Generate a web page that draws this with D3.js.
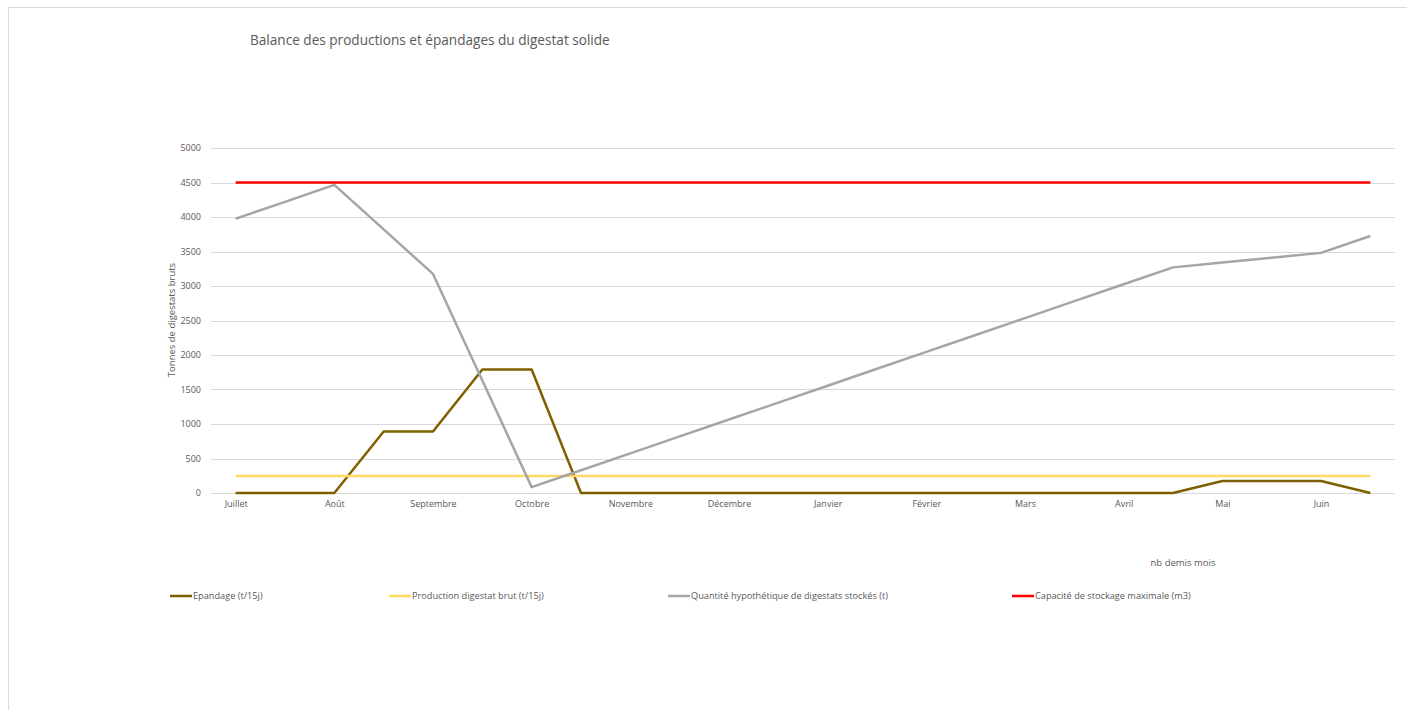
<!DOCTYPE html>
<html>
<head>
<meta charset="utf-8">
<script src="https://cdn.jsdelivr.net/npm/d3@7"></script>
<style>
body{margin:0;background:#fff;font-family:"Open Sans",sans-serif;}
text{fill:#595959;}
</style>
</head>
<body>
<script>
// half-month steps, July -> June
var months=["Juillet","Août","Septembre","Octobre","Novembre","Décembre","Janvier","Février","Mars","Avril","Mai","Juin"]
var epandage=[0,0,0,890,890,1790,1790,0,0,0,0,0,0,0,0,0,0,0,0,0,175,175,175,0]
var production=[245,245,245,245,245,245,245,245,245,245,245,245,245,245,245,245,245,245,245,245,245,245,245,245]
var stock=[3975,4220,4465,3820,3175,1630,85,330,575,820,1065,1310,1555,1800,2045,2290,2535,2780,3025,3270,3340,3410,3480,3725]
var capacite=[4500,4500,4500,4500,4500,4500,4500,4500,4500,4500,4500,4500,4500,4500,4500,4500,4500,4500,4500,4500,4500,4500,4500,4500]
var yTicks=[0,500,1000,1500,2000,2500,3000,3500,4000,4500,5000]

var series=[
  {name:"Epandage (t/15j)",values:epandage,color:"#7f6000"},
  {name:"Production digestat brut (t/15j)",values:production,color:"#ffd966"},
  {name:"Quantité hypothétique de digestats stockés (t)",values:stock,color:"#a5a5a5"},
  {name:"Capacité de stockage maximale (m3)",values:capacite,color:"#ff0000"}
]
var legendX=[170,389,668,1012]

var screen={width:1407,height:710}
var plot={left:211,right:1395,top:148,bottom:493}

var svg=d3.select("body").append("svg")
  .attr("width",screen.width)
  .attr("height",screen.height)

// chart border
svg.append("rect")
   .attr("x",8.5).attr("y",7.5)
   .attr("width",screen.width).attr("height",screen.height)
   .attr("fill","none").attr("stroke","#d9d9d9")

var xScale=d3.scalePoint()
  .domain(d3.range(epandage.length))
  .range([plot.left,plot.right])
  .padding(0.5)
var yScale=d3.scaleLinear()
  .domain([0,5000])
  .range([plot.bottom,plot.top])

// gridlines
svg.append("g").selectAll("line")
   .data(yTicks).enter().append("line")
   .attr("x1",plot.left).attr("x2",plot.right)
   .attr("y1",function(d){return Math.round(yScale(d))+0.5})
   .attr("y2",function(d){return Math.round(yScale(d))+0.5})
   .attr("stroke","#d9d9d9").attr("stroke-width",1)

// axes (labels only)
var yAxis=d3.axisLeft(yScale).tickValues(yTicks).tickFormat(d3.format("d")).tickSize(0).tickPadding(10)
var gy=svg.append("g")
   .attr("transform","translate("+plot.left+",0)")
   .call(yAxis)
gy.select(".domain").remove()
gy.selectAll("text").attr("font-family","Open Sans").attr("font-size","9px").attr("fill","#595959")

var xAxis=d3.axisBottom(xScale)
  .tickValues(d3.range(0,epandage.length,2))
  .tickFormat(function(d){return months[d/2]})
  .tickSize(0).tickPadding(8)
var gx=svg.append("g")
   .attr("transform","translate(0,"+plot.bottom+")")
   .call(xAxis)
gx.select(".domain").remove()
gx.selectAll("text").attr("font-family","Open Sans").attr("font-size","9px").attr("fill","#595959")

// lines
var drawLine=function(vals){
  return d3.line()
    .x(function(d,i){return xScale(i)})
    .y(function(d){return yScale(d)})(vals)
}
svg.append("g").selectAll("path")
   .data(series).enter().append("path")
   .attr("d",function(d){return drawLine(d.values)})
   .attr("fill","none")
   .attr("stroke",function(d){return d.color})
   .attr("stroke-width",2.5)
   .attr("stroke-linejoin","round")

// title
svg.append("text")
   .attr("x",250).attr("y",45)
   .attr("font-size","13.6px")
   .text("Balance des productions et épandages du digestat solide")

// axis titles
svg.append("text")
   .attr("transform","translate(175,320) rotate(-90)")
   .attr("text-anchor","middle")
   .attr("font-size","9.5px")
   .attr("fill","#595959")
   .text("Tonnes de digestats bruts")
svg.append("text")
   .attr("x",1183).attr("y",566)
   .attr("text-anchor","middle")
   .attr("font-size","9.5px")
   .text("nb demis mois")

// legend
var legend=svg.append("g").attr("transform","translate(0,596)")
var legendLines=legend.selectAll("g")
  .data(series).enter().append("g")
  .attr("transform",function(d,i){return "translate("+legendX[i]+",0)"})
legendLines.append("line")
  .attr("x1",0).attr("x2",22).attr("y1",0).attr("y2",0)
  .attr("stroke",function(d){return d.color}).attr("stroke-width",2.5)
legendLines.append("text")
  .attr("x",23).attr("y",3)
  .attr("font-size","9.2px")
  .text(function(d){return d.name})
</script>
</body>
</html>
